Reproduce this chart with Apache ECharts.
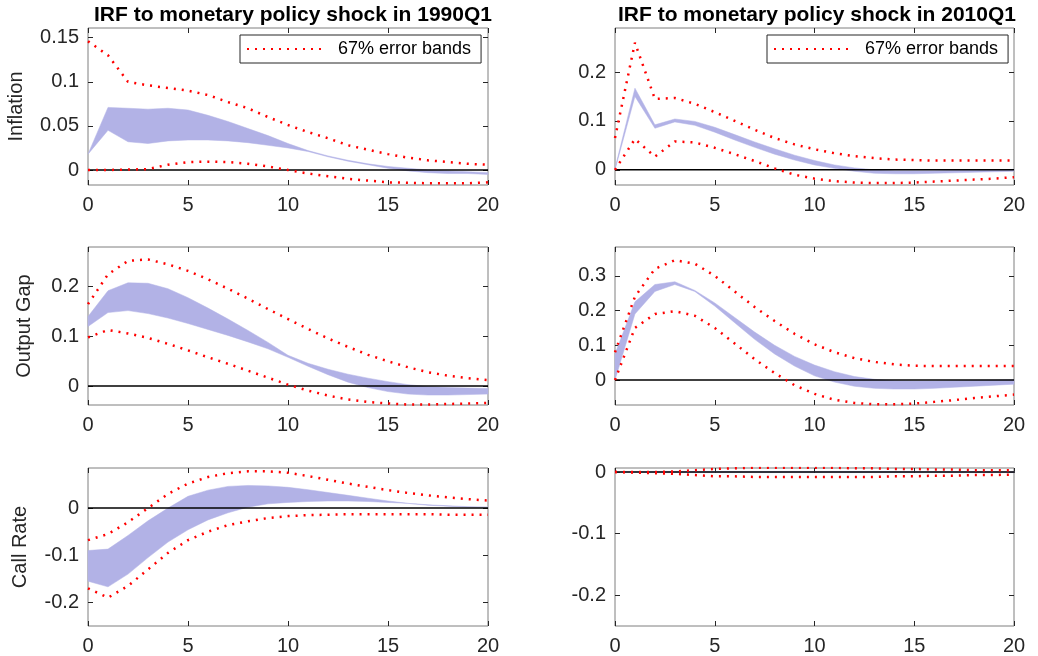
<!DOCTYPE html>
<html>
<head>
<meta charset="utf-8">
<script src="https://cdn.jsdelivr.net/npm/echarts@6/dist/echarts.min.js"></script>
<style>html,body{margin:0;padding:0;background:#fff}#c{width:1038px;height:656px}</style>
</head>
<body>
<div id="c"></div>
<script>
var horizon = [0,1,2,3,4,5,6,7,8,9,10,11,12,13,14,15,16,17,18,19,20];

// Inflation, 1990Q1
var inf90BandHi = [0.018,0.071,0.070,0.069,0.070,0.068,0.062,0.055,0.047,0.039,0.030,0.022,0.016,0.011,0.007,0.004,0.002,0.000,-0.001,-0.002,-0.003];
var inf90BandLo = [0.018,0.045,0.032,0.030,0.033,0.034,0.034,0.033,0.031,0.028,0.025,0.021,0.015,0.010,0.006,0.002,-0.001,-0.003,-0.004,-0.004,-0.005];
var inf90ErrHi = [0.146,0.130,0.100,0.096,0.093,0.090,0.085,0.077,0.070,0.060,0.051,0.043,0.036,0.028,0.023,0.018,0.014,0.011,0.009,0.007,0.006];
var inf90ErrLo = [0,0,0.0005,0.001,0.006,0.009,0.0095,0.009,0.007,0.004,0.000,-0.004,-0.007,-0.010,-0.012,-0.014,-0.0145,-0.015,-0.015,-0.015,-0.014];

// Inflation, 2010Q1
var inf10BandHi = [0.003,0.167,0.092,0.104,0.099,0.087,0.072,0.057,0.043,0.030,0.019,0.010,0.004,0.000,-0.002,-0.002,-0.002,-0.001,-0.001,0.000,0.001];
var inf10BandLo = [0.000,0.150,0.085,0.098,0.091,0.077,0.061,0.046,0.032,0.020,0.010,0.003,-0.003,-0.007,-0.008,-0.008,-0.007,-0.006,-0.005,-0.004,-0.003];
var inf10ErrHi = [0.065,0.260,0.145,0.147,0.135,0.118,0.100,0.082,0.065,0.052,0.042,0.034,0.028,0.024,0.021,0.020,0.019,0.019,0.019,0.019,0.019];
var inf10ErrLo = [0,0.063,0.027,0.058,0.056,0.045,0.032,0.018,0.003,-0.010,-0.018,-0.023,-0.026,-0.027,-0.027,-0.026,-0.024,-0.022,-0.020,-0.018,-0.015];

// Output gap, 1990Q1
var gap90BandHi = [0.140,0.192,0.208,0.207,0.196,0.178,0.157,0.135,0.112,0.088,0.062,0.046,0.034,0.024,0.016,0.009,0.003,-0.001,-0.003,-0.004,-0.005];
var gap90BandLo = [0.120,0.148,0.152,0.146,0.137,0.126,0.114,0.102,0.089,0.075,0.058,0.040,0.023,0.008,-0.003,-0.011,-0.016,-0.018,-0.018,-0.017,-0.016];
var gap90ErrHi = [0.165,0.225,0.252,0.255,0.245,0.232,0.215,0.196,0.176,0.155,0.135,0.115,0.096,0.079,0.063,0.050,0.038,0.028,0.021,0.016,0.012];
var gap90ErrLo = [0.098,0.113,0.106,0.097,0.085,0.072,0.058,0.045,0.031,0.017,0.003,-0.009,-0.019,-0.027,-0.032,-0.035,-0.037,-0.037,-0.036,-0.035,-0.034];

// Output gap, 2010Q1
var gap10BandHi = [0.075,0.225,0.275,0.283,0.258,0.222,0.180,0.138,0.100,0.068,0.043,0.024,0.010,0.002,-0.002,-0.003,-0.003,-0.002,-0.001,0.000,0.001];
var gap10BandLo = [0.000,0.190,0.255,0.275,0.255,0.213,0.165,0.117,0.075,0.040,0.012,-0.006,-0.018,-0.024,-0.026,-0.026,-0.024,-0.021,-0.018,-0.015,-0.012];
var gap10ErrHi = [0.080,0.240,0.320,0.345,0.335,0.300,0.255,0.210,0.170,0.133,0.103,0.080,0.063,0.052,0.045,0.041,0.040,0.040,0.040,0.040,0.040];
var gap10ErrLo = [0.000,0.150,0.190,0.198,0.185,0.150,0.105,0.060,0.020,-0.015,-0.040,-0.057,-0.066,-0.070,-0.070,-0.068,-0.063,-0.058,-0.052,-0.047,-0.042];

// Call rate, 1990Q1
var rate90BandHi = [-0.090,-0.087,-0.058,-0.027,0.000,0.025,0.038,0.046,0.048,0.047,0.044,0.039,0.033,0.027,0.021,0.015,0.010,0.006,0.004,0.002,0.002];
var rate90BandLo = [-0.155,-0.167,-0.140,-0.105,-0.072,-0.046,-0.025,-0.010,0.002,0.009,0.012,0.014,0.015,0.015,0.014,0.012,0.010,0.007,0.005,0.003,0.002];
var rate90ErrHi = [-0.068,-0.055,-0.030,0.000,0.030,0.052,0.066,0.074,0.078,0.078,0.075,0.068,0.060,0.052,0.045,0.038,0.032,0.027,0.023,0.019,0.016];
var rate90ErrLo = [-0.170,-0.190,-0.165,-0.130,-0.095,-0.068,-0.050,-0.036,-0.028,-0.021,-0.017,-0.015,-0.014,-0.013,-0.013,-0.013,-0.013,-0.013,-0.014,-0.014,-0.014];

// Call rate, 2010Q1
var rate10BandHi = [0,0.0005,0.001,0.001,0.001,0.001,0.001,0.001,0.001,0.001,0.001,0.001,0.001,0.001,0.001,0.001,0.001,0.001,0.001,0.001,0.001];
var rate10BandLo = [0,-0.0005,-0.001,-0.001,-0.001,-0.001,-0.001,-0.001,-0.001,-0.001,-0.001,-0.001,-0.001,-0.001,-0.001,-0.001,-0.001,-0.001,-0.001,-0.001,-0.001];
var rate10ErrHi = [0,0.000,0.000,0.001,0.003,0.005,0.006,0.007,0.007,0.007,0.007,0.007,0.006,0.006,0.005,0.005,0.004,0.004,0.003,0.003,0.003];
var rate10ErrLo = [0,-0.001,-0.002,-0.003,-0.005,-0.007,-0.007,-0.008,-0.008,-0.008,-0.008,-0.008,-0.008,-0.008,-0.007,-0.007,-0.006,-0.006,-0.005,-0.005,-0.004];

var xTicks = [0,5,10,15,20];

var panels = [
  {left:88, top:28, h:157, min:-0.017, max:0.161, ticks:[0,0.05,0.1,0.15], name:'Inflation', gap:62, band:[inf90BandHi,inf90BandLo], err:[inf90ErrHi,inf90ErrLo]},
  {left:615, top:28, h:157, min:-0.031, max:0.29, ticks:[0,0.1,0.2], name:'', band:[inf10BandHi,inf10BandLo], err:[inf10ErrHi,inf10ErrLo]},
  {left:88, top:247, h:158, min:-0.038, max:0.28, ticks:[0,0.1,0.2], name:'Output Gap', gap:54, band:[gap90BandHi,gap90BandLo], err:[gap90ErrHi,gap90ErrLo]},
  {left:615, top:247, h:158, min:-0.072, max:0.383, ticks:[0,0.1,0.2,0.3], name:'', band:[gap10BandHi,gap10BandLo], err:[gap10ErrHi,gap10ErrLo]},
  {left:88, top:468, h:158, min:-0.25, max:0.085, ticks:[-0.2,-0.1,0], name:'Call Rate', gap:58, band:[rate90BandHi,rate90BandLo], err:[rate90ErrHi,rate90ErrLo]},
  {left:615, top:468, h:158, min:-0.25, max:0.0065, ticks:[-0.2,-0.1,0], name:'', band:[rate10BandHi,rate10BandLo], err:[rate10ErrHi,rate10ErrLo]}
];

var font = 'Liberation Sans, Arial, sans-serif';
var grids = [], xAxes = [], yAxes = [], series = [];

function pairs(arr){ return horizon.map(function(x, i){ return [x, arr[i]]; }); }

panels.forEach(function(p, k){
  grids.push({left:p.left, top:p.top, width:(p.left < 300 ? 400 : 399), height:p.h,
    show:true, borderColor:'#7f7f7f', borderWidth:1, backgroundColor:'#fff'});
  var xi = xAxes.length, yi = yAxes.length;
  xAxes.push({type:'value', gridIndex:k, min:0, max:20, position:'bottom',
    axisLine:{show:false, onZero:false}, splitLine:{show:false},
    axisTick:{inside:true, length:5, lineStyle:{color:'#262626'}, customValues:xTicks},
    axisLabel:{fontSize:20, color:'#262626', fontFamily:font, margin:10, customValues:xTicks}});
  xAxes.push({type:'value', gridIndex:k, min:0, max:20, position:'top',
    axisLine:{show:false, onZero:false}, splitLine:{show:false}, axisLabel:{show:false},
    axisTick:{inside:true, length:5, lineStyle:{color:'#262626'}, customValues:xTicks}});
  yAxes.push({type:'value', gridIndex:k, min:p.min, max:p.max, position:'left',
    name:p.name, nameLocation:'middle', nameGap:p.gap || 50, nameRotate:90,
    nameTextStyle:{fontSize:20, color:'#262626', fontFamily:font},
    axisLine:{show:false, onZero:false}, splitLine:{show:false},
    axisTick:{inside:true, length:5, lineStyle:{color:'#262626'}, customValues:p.ticks},
    axisLabel:{fontSize:20, color:'#262626', fontFamily:font, margin:9, customValues:p.ticks}});
  yAxes.push({type:'value', gridIndex:k, min:p.min, max:p.max, position:'right',
    axisLine:{show:false, onZero:false}, splitLine:{show:false}, axisLabel:{show:false},
    axisTick:{inside:true, length:5, lineStyle:{color:'#262626'}, customValues:p.ticks}});

  var hi = p.band[0], lo = p.band[1];
  series.push({type:'custom', xAxisIndex:xi, yAxisIndex:yi, data:[0], silent:true, z:1,
    renderItem:function(params, api){
      var pts = [];
      horizon.forEach(function(x, i){ pts.push(api.coord([x, hi[i]])); });
      for (var i = horizon.length - 1; i >= 0; i--) pts.push(api.coord([horizon[i], lo[i]]));
      return {type:'polygon', shape:{points:pts}, style:{fill:'#b2b2e6', stroke:'#b2b2e6', lineWidth:0.5}};
    }});
  series.push({type:'line', xAxisIndex:xi, yAxisIndex:yi, data:[[0,0],[20,0]], symbol:'none', silent:true, z:3,
    lineStyle:{color:'#000', width:1.5}});
  p.err.forEach(function(e){
    series.push({name:'67% error bands', type:'line', xAxisIndex:xi, yAxisIndex:yi, data:pairs(e),
      symbol:'none', silent:true, z:4, itemStyle:{color:'#ff0000'},
      lineStyle:{color:'#ff0000', width:2.5, type:[2,6]}});
  });
});

var legendStyle = {orient:'vertical', backgroundColor:'#fff', borderColor:'#262626', borderWidth:1,
  padding:[5,10,5,6], itemWidth:76, itemHeight:14, itemStyle:{opacity:0},
  textStyle:{fontSize:18, color:'#000', fontFamily:font, padding:[0,0,0,10]}, data:['67% error bands'], selectedMode:false};

var option = {
  animation:false,
  backgroundColor:'#fff',
  title:[
    {text:'IRF to monetary policy shock in 1990Q1', left:288, top:0, textAlign:'center',
      textStyle:{fontSize:21, fontWeight:'bold', color:'#000', fontFamily:font}},
    {text:'IRF to monetary policy shock in 2010Q1', left:812, top:0, textAlign:'center',
      textStyle:{fontSize:21, fontWeight:'bold', color:'#000', fontFamily:font}}
  ],
  legend:[
    Object.assign({}, legendStyle, {left:240, top:35}),
    Object.assign({}, legendStyle, {left:767, top:35})
  ],
  grid:grids, xAxis:xAxes, yAxis:yAxes, series:series
};

var chart = echarts.init(document.getElementById('c'));
chart.setOption(option);
</script>
</body>
</html>
